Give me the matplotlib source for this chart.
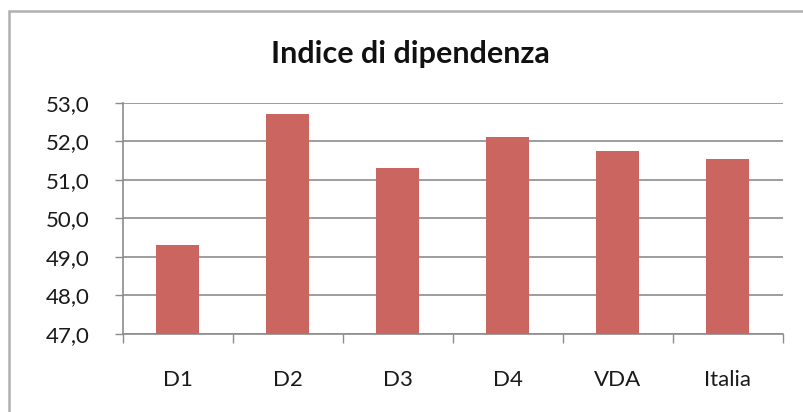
import matplotlib.pyplot as plt
import matplotlib.patches as patches
import numpy as np

# Data
categories = ['D1', 'D2', 'D3', 'D4', 'VDA', 'Italia']
values = [49.3, 52.7, 51.3, 52.1, 51.75, 51.55]
yticks = [47, 48, 49, 50, 51, 52, 53]

bar_color = '#CB6560'
grid_color = '#8C8C8C'

plt.rcParams['font.family'] = ['Lato', 'DejaVu Sans']

fig = plt.figure(figsize=(8.04, 4.12), dpi=100)
ax = fig.add_axes([0.1526, 0.1893, 0.9735 - 0.1526, 0.7507 - 0.1893])

x = np.arange(len(categories))
ax.bar(x, values, width=0.39, color=bar_color, zorder=3)

ax.set_xlim(-0.5, len(categories) - 0.5)
ax.set_ylim(47, 53)
ax.set_yticks(yticks)
ax.set_yticklabels([f'{v:.1f}'.replace('.', ',') for v in yticks], fontsize=16, color='#1a1a1a')
ax.set_xticks(x)
ax.set_xticklabels(categories, fontsize=16, color='#1a1a1a')
ax.set_xticks(np.arange(-0.5, len(categories)), minor=True)

ax.tick_params(axis='x', which='major', length=0, pad=26)
ax.tick_params(axis='x', which='minor', length=6.5, width=1, color=grid_color, direction='out')
ax.tick_params(axis='y', which='major', length=6, width=1, color=grid_color, pad=18)

ax.grid(axis='y', color=grid_color, linewidth=1.2, zorder=0)
for s in ['top', 'right']:
    ax.spines[s].set_visible(False)
for s in ['left', 'bottom']:
    ax.spines[s].set_color(grid_color)
    ax.spines[s].set_linewidth(1.2)

fig.text(0.51, 0.868, 'Indice di dipendenza', ha='center', va='center',
         fontsize=22, fontweight='bold', color='#111111')

# Chart frame (left and top edges visible)
frame = patches.Rectangle((9 / 804, -0.1), 1.2, 1 - 11 / 412 + 0.1,
                          transform=fig.transFigure, fill=False,
                          edgecolor='#B0B0B0', linewidth=1.8)
fig.add_artist(frame)

fig.savefig('out.png', dpi=100)
